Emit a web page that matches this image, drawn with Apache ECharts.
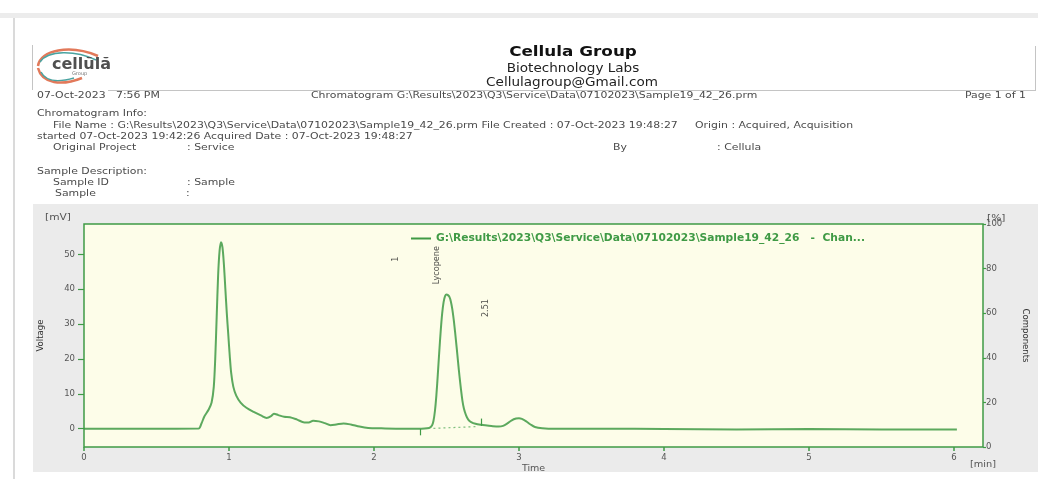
<!DOCTYPE html>
<html>
<head>
<meta charset="utf-8">
<script src="https://cdn.jsdelivr.net/npm/echarts@6/dist/echarts.min.js"></script>
<style>
html,body{margin:0;padding:0;background:#fff;}
#c{width:1038px;height:479px;}
</style>
</head>
<body>
<div id="c"></div>
<script>
// ---- data ----
var seriesName = 'G:\\Results\\2023\\Q3\\Service\\Data\\07102023\\Sample19_42_26   -  Chan...';
var timeMin = [0, 0.5, 0.79, 0.81, 0.83, 0.86, 0.88, 0.895, 0.905, 0.915, 0.925, 0.935, 0.945, 0.955, 0.965, 0.975, 0.985, 0.995, 1.005, 1.015, 1.03, 1.05, 1.08, 1.12, 1.17, 1.22, 1.26, 1.29, 1.31, 1.34, 1.38, 1.42, 1.47, 1.52, 1.55, 1.58, 1.62, 1.66, 1.70, 1.74, 1.79, 1.84, 1.90, 1.96, 2.05, 2.20, 2.30, 2.38, 2.40, 2.41, 2.42, 2.43, 2.44, 2.45, 2.46, 2.47, 2.48, 2.49, 2.50, 2.51, 2.52, 2.53, 2.54, 2.55, 2.56, 2.57, 2.58, 2.59, 2.60, 2.61, 2.62, 2.635, 2.65, 2.67, 2.70, 2.74, 2.78, 2.82, 2.86, 2.89, 2.92, 2.95, 2.98, 3.00, 3.02, 3.05, 3.08, 3.11, 3.16, 3.25, 3.6, 4.0, 4.5, 5.0, 5.5, 6.02];
var voltage = [0, 0, 0.05, 1.5, 3.5, 5.5, 7.5, 12, 20, 32, 44, 51, 53.5, 52, 47, 40, 33, 27, 21, 16, 12, 9.5, 7.5, 6, 4.8, 3.8, 3.1, 3.6, 4.3, 3.9, 3.4, 3.3, 2.6, 1.8, 1.8, 2.3, 2.1, 1.6, 1.0, 1.2, 1.5, 1.2, 0.6, 0.2, 0.1, 0, 0, 0.2, 0.9, 2.2, 5, 9.5, 15.5, 22, 28, 33, 36.3, 38, 38.5, 38.3, 37.8, 36.5, 34.3, 31.2, 27.4, 23.3, 19.0, 14.9, 11.2, 8.0, 5.8, 3.8, 2.6, 1.9, 1.4, 1.1, 0.9, 0.7, 0.6, 0.8, 1.5, 2.4, 2.9, 3.0, 2.8, 2.1, 1.2, 0.5, 0.15, 0, 0, -0.1, -0.2, -0.1, -0.2, -0.2];
var xTicks = [0, 1, 2, 3, 4, 5, 6];
var yLeftTicks = [0, 10, 20, 30, 40, 50];
var peakNames = ['1', 'Lycopene', '2.51'];
var peakLabelT = [2.15, 2.43, 2.77];
var peakLabelV = [48.6, 46.9, 34.6];
var boundaryT = [2.32, 2.74];
var boundaryV = [[-0.1, -1.9], [0.8, 2.9]];
var baselineT = [2.41, 2.71];
var baselineV = [0.1, 0.6];

var green = '#3f9a45';
var txt = '#4a4a4a';
var SX = 1.21;

function T(x, y, s, extra, sx) {
  var st = Object.assign({fontFamily: 'DejaVu Sans', fontSize: 9, fill: txt}, {text: s, x: 0, y: 0, textVerticalAlign: 'middle'}, extra || {});
  return {type: 'text', x: x, y: y, scaleX: sx || SX, style: st, silent: true};
}

var lineData = timeMin.map(function (t, i) { return [t, voltage[i]]; });
var annData = peakNames.map(function (n, i) { return {name: n, value: [peakLabelT[i], peakLabelV[i]]}; });

var marks = [];
boundaryT.forEach(function (t, i) {
  marks.push([{coord: [t, boundaryV[i][0]], lineStyle: {color: green, width: 1.2, type: 'solid'}}, {coord: [t, boundaryV[i][1]]}]);
});
marks.push([{coord: [baselineT[0], baselineV[0]], lineStyle: {color: '#7cbf7c', width: 1.2, type: [2, 3]}}, {coord: [baselineT[1], baselineV[1]]}]);

var axisLbl = {color: '#555', fontSize: 8.5, fontFamily: 'DejaVu Sans'};

var chart = echarts.init(document.getElementById('c'), null, {renderer: 'canvas'});
chart.setOption({
  animation: false,
  backgroundColor: '#fff',
  graphic: [
    {type: 'rect', shape: {x: 0, y: 13, width: 1038, height: 5}, style: {fill: '#ececec'}, silent: true, z: -5},
    {type: 'rect', shape: {x: 13, y: 18, width: 2, height: 461}, style: {fill: '#dadada'}, silent: true, z: -5},
    {type: 'rect', shape: {x: 33, y: 204, width: 1005, height: 268}, style: {fill: '#ebebeb'}, silent: true, z: -5},
    // header box lines
    {type: 'line', shape: {x1: 32.5, y1: 45, x2: 32.5, y2: 90}, style: {stroke: '#c4c4c4', lineWidth: 1}, silent: true},
    {type: 'line', shape: {x1: 108, y1: 90.5, x2: 1036, y2: 90.5}, style: {stroke: '#c4c4c4', lineWidth: 1}, silent: true},
    {type: 'line', shape: {x1: 1035.5, y1: 46, x2: 1035.5, y2: 90}, style: {stroke: '#c4c4c4', lineWidth: 1}, silent: true},
    // logo
    {type: 'bezierCurve', shape: {x1: 38, y1: 66, cpx1: 40, cpy1: 50, cpx2: 70, cpy2: 44, x2: 98, y2: 56}, style: {stroke: '#e2795a', lineWidth: 2.5, fill: null}, silent: true},
    {type: 'bezierCurve', shape: {x1: 40, y1: 62, cpx1: 48, cpy1: 50, cpx2: 75, cpy2: 50, x2: 96, y2: 60}, style: {stroke: '#4aa3a0', lineWidth: 1.5, fill: null}, silent: true},
    {type: 'bezierCurve', shape: {x1: 38, y1: 68, cpx1: 42, cpy1: 84, cpx2: 62, cpy2: 86, x2: 82, y2: 78}, style: {stroke: '#e2795a', lineWidth: 2.5, fill: null}, silent: true},
    {type: 'bezierCurve', shape: {x1: 41, y1: 72, cpx1: 46, cpy1: 82, cpx2: 60, cpy2: 82, x2: 74, y2: 78}, style: {stroke: '#4aa3a0', lineWidth: 1.5, fill: null}, silent: true},
    T(52, 65, 'cellŭlă', {fontSize: 16, fontWeight: 'bold', fill: '#505050'}, 1),
    T(72, 74, 'Group', {fontSize: 5, fill: '#777'}, 1),
    // title block
    T(573, 52, 'Cellula Group', {fontSize: 14, fontWeight: 'bold', fill: '#111', textAlign: 'center'}, 1.2),
    T(573, 69, 'Biotechnology Labs', {fontSize: 11.5, fill: '#222', textAlign: 'center'}, 1.18),
    T(572, 83, 'Cellulagroup@Gmail.com', {fontSize: 12, fill: '#222', textAlign: 'center'}, 1.13),
    T(37, 96, '07-Oct-2023   7:56 PM'),
    T(311, 96, 'Chromatogram G:\\Results\\2023\\Q3\\Service\\Data\\07102023\\Sample19_42_26.prm'),
    T(1026, 96, 'Page 1 of 1', {textAlign: 'right'}),
    T(37, 114, 'Chromatogram Info:'),
    T(53, 126, 'File Name : G:\\Results\\2023\\Q3\\Service\\Data\\07102023\\Sample19_42_26.prm File Created : 07-Oct-2023 19:48:27     Origin : Acquired, Acquisition'),
    T(37, 137, 'started 07-Oct-2023 19:42:26 Acquired Date : 07-Oct-2023 19:48:27'),
    T(53, 148, 'Original Project'),
    T(187, 148, ': Service'),
    T(613, 148, 'By'),
    T(717, 148, ': Cellula'),
    T(37, 172, 'Sample Description:'),
    T(53, 183, 'Sample ID'),
    T(187, 183, ': Sample'),
    T(55, 194, 'Sample'),
    T(186, 194, ':'),
    // axis unit labels
    T(45, 218, '[mV]', {fontSize: 8.5, fill: '#555'}, 1.25),
    T(987, 219, '[%]', {fontSize: 8.5, fill: '#555'}, 1.25),
    T(970, 465, '[min]', {fontSize: 8.5, fill: '#555'}, 1.15)
  ],
  grid: {left: 84, top: 224, right: 51, bottom: 32, show: true, backgroundColor: '#fdfde9', borderColor: green, borderWidth: 1.5},
  legend: {
    left: 406, top: 228, itemWidth: 20, itemHeight: 2, icon: 'rect', itemGap: 4,
    textStyle: {color: green, fontSize: 10.7, fontWeight: 'bold', fontFamily: 'DejaVu Sans'},
    data: [{name: seriesName, itemStyle: {color: green}}]
  },
  xAxis: {
    type: 'value', min: 0, max: 6.2,
    name: 'Time', nameLocation: 'middle', nameGap: 17,
    nameTextStyle: {color: '#555', fontSize: 9.5, fontFamily: 'DejaVu Sans'},
    axisLine: {show: false, onZero: false},
    splitLine: {show: false},
    axisTick: {show: true, length: 4, lineStyle: {color: green, width: 1.5}, customValues: xTicks},
    axisLabel: Object.assign({margin: 6, customValues: xTicks}, axisLbl)
  },
  yAxis: [{
    type: 'value', min: -5.25, max: 58.7,
    name: 'Voltage', nameLocation: 'middle', nameGap: 38, nameRotate: 90,
    nameTextStyle: {color: '#333', fontSize: 9.5, fontFamily: 'DejaVu Sans Condensed'},
    axisLine: {show: false}, splitLine: {show: false},
    axisTick: {show: true, length: 6, lineStyle: {color: green, width: 1.2}, customValues: yLeftTicks},
    axisLabel: Object.assign({margin: 9, customValues: yLeftTicks}, axisLbl)
  }, {
    type: 'value', min: 0, max: 100, interval: 20, position: 'right',
    name: 'Components', nameLocation: 'middle', nameGap: 37, nameRotate: -90,
    nameTextStyle: {color: '#333', fontSize: 9.5, fontFamily: 'DejaVu Sans Condensed'},
    axisLine: {show: false}, splitLine: {show: false},
    axisTick: {show: true, length: 3, lineStyle: {color: green, width: 1.2}},
    axisLabel: Object.assign({margin: 3}, axisLbl)
  }],
  series: [{
    name: seriesName, type: 'line', data: lineData, smooth: 0.3, showSymbol: false, symbol: 'none',
    lineStyle: {color: green, width: 2, opacity: 0.85}, itemStyle: {color: green},
    markLine: {silent: true, symbol: ['none', 'none'], label: {show: false}, data: marks}
  }, {
    name: 'peaks', type: 'scatter', data: annData, symbolSize: 1, itemStyle: {color: 'rgba(0,0,0,0)'},
    label: {show: true, position: 'inside', rotate: 90, formatter: '{b}', color: '#222', fontSize: 9, fontFamily: 'DejaVu Sans Condensed'},
    silent: true
  }]
});
</script>
</body>
</html>
